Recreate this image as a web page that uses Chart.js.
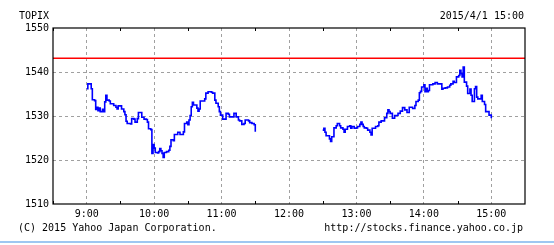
<!DOCTYPE html>
<html lang="ja">
<head>
<meta charset="UTF-8">
<title>TOPIX</title>
<style>
    body { margin: 0; background: #fff; }
    #wrap { position: relative; width: 554px; height: 245px; overflow: hidden; }
    #wrap canvas { position: absolute; left: 0; top: 0; }
    .txt {
        position: absolute;
        font-family: "DejaVu Sans Mono", monospace;
        font-size: 10px;
        line-height: 12px;
        color: #000;
        white-space: nowrap;
    }
    #rule { position: absolute; left: 0; top: 241px; width: 554px; height: 2px; background: #9fc7f1; }
</style>
<script src="https://cdn.jsdelivr.net/npm/chart.js"></script>
</head>
<body>
<div id="wrap">
    <canvas id="chart" width="554" height="245"></canvas>
    <div class="txt" style="left:19px; top:10px;">TOPIX</div>
    <div class="txt" style="right:30px; top:10px;">2015/4/1 15:00</div>
    <div class="txt" style="left:18px; top:222px;">(C) 2015 Yahoo Japan Corporation.</div>
    <div class="txt" style="right:31px; top:222px;">http://stocks.finance.yahoo.co.jp</div>
    <div id="rule"></div>
</div>

<script>
    // minutes after 9:00 and index level
    const amMins = [0, 1, 3, 4, 5, 7, 8, 9, 10, 11, 12, 14, 15, 16, 17, 18, 20, 21, 24, 26,
        27, 28, 30, 31, 33, 34, 35, 36, 39, 40, 42, 43, 45, 46, 48, 49, 51, 53, 54, 55,
        57, 58, 59, 60, 61, 63, 64, 65, 66, 67, 68, 69, 71, 73, 74, 75, 77, 78, 81, 83,
        86, 87, 89, 90, 91, 92, 93, 94, 95, 97, 98, 99, 100, 101, 103, 105, 106, 108, 111, 112,
        114, 115, 117, 118, 119, 121, 122, 124, 126, 127, 130, 131, 133, 135, 136, 138, 140, 141, 144, 145,
        147, 149, 150];
    const amVals = [1536.2, 1537.3, 1537.3, 1536.2, 1533.7, 1533.5, 1531.5, 1532.0, 1531.2, 1531.8, 1531.0, 1531.5, 1531.0, 1533.2, 1534.7, 1533.6, 1533.4, 1532.8, 1532.4, 1532.0,
        1531.6, 1532.3, 1532.3, 1531.6, 1531.0, 1530.3, 1528.8, 1528.3, 1528.2, 1529.4, 1529.3, 1528.6, 1529.4, 1530.8, 1530.8, 1529.7, 1529.3, 1529.2, 1528.6, 1527.1,
        1526.9, 1521.5, 1523.5, 1522.7, 1521.7, 1521.6, 1521.9, 1522.6, 1522.1, 1521.5, 1520.6, 1521.7, 1521.9, 1522.2, 1523.1, 1524.6, 1524.4, 1525.8, 1526.3, 1525.8,
        1526.4, 1528.3, 1528.6, 1528.0, 1529.1, 1530.1, 1532.1, 1533.1, 1532.5, 1532.5, 1531.8, 1531.1, 1531.6, 1533.4, 1533.4, 1533.9, 1535.2, 1535.5, 1535.4, 1535.2,
        1533.6, 1532.9, 1532.1, 1531.0, 1530.2, 1529.3, 1529.3, 1530.6, 1530.4, 1529.8, 1529.8, 1530.6, 1529.8, 1529.1, 1528.9, 1528.1, 1528.3, 1529.1, 1528.9, 1528.5,
        1528.3, 1528.0, 1526.4];

    const pmMins = [210, 211, 212, 213, 215, 216, 217, 218, 220, 221, 222, 223, 225, 226, 228, 229, 230, 232, 234, 235,
        236, 238, 240, 241, 243, 244, 245, 246, 247, 249, 250, 252, 253, 254, 256, 257, 259, 260, 262, 264,
        265, 267, 268, 269, 270, 272, 274, 277, 279, 281, 283, 285, 287, 289, 290, 292, 293, 295, 296, 297,
        298, 300, 301, 302, 303, 304, 305, 308, 310, 312, 314, 316, 317, 319, 321, 323, 324, 326, 327, 329,
        331, 332, 333, 334, 335, 336, 338, 339, 341, 342, 343, 345, 346, 347, 348, 351, 352, 354, 355, 357,
        358, 360];
    const pmVals = [1526.8, 1527.2, 1526.3, 1525.5, 1525.5, 1524.8, 1524.2, 1525.3, 1527.3, 1527.3, 1527.8, 1528.3, 1527.8, 1527.3, 1527.0, 1526.3, 1527.0, 1527.6, 1527.8, 1527.2,
        1527.6, 1527.2, 1527.3, 1527.6, 1528.1, 1528.6, 1528.1, 1527.6, 1527.3, 1527.2, 1526.8, 1526.3, 1525.7, 1527.2, 1527.2, 1527.6, 1527.8, 1528.6, 1528.9, 1528.9,
        1529.6, 1530.6, 1531.4, 1531.0, 1530.6, 1529.5, 1530.1, 1530.6, 1531.1, 1531.9, 1531.4, 1530.8, 1532.0, 1532.0, 1531.7, 1532.4, 1533.3, 1533.6, 1535.3, 1535.6,
        1536.6, 1537.1, 1535.5, 1536.3, 1535.5, 1535.8, 1537.1, 1537.3, 1537.6, 1537.3, 1537.3, 1536.1, 1536.3, 1536.4, 1536.6, 1537.0, 1537.3, 1537.9, 1537.6, 1538.9,
        1539.2, 1540.4, 1539.6, 1538.9, 1541.1, 1537.7, 1536.8, 1535.1, 1536.1, 1534.7, 1533.3, 1536.2, 1536.7, 1534.3, 1533.9, 1534.7, 1533.3, 1532.6, 1531.0, 1531.0,
        1530.2, 1529.5];

    const prevClose = 1543.11;
    const xRange = [-30, 390];      // 8:30 .. 15:30
    const yTicks = [1510, 1520, 1530, 1540, 1550];

    const toPts = (xs, ys) => xs.map((m, i) => ({ x: m, y: ys[i] }));
    const hourLabel = (v) => (v % 60 === 0 && v >= 0 && v <= 360) ? (9 + v / 60) + ':00' : '';

    // black frame + short inner ticks at the half hours
    const framePlugin = {
        id: 'frame',
        afterDatasetsDraw(chart) {
            const { ctx, chartArea: a, scales: { x } } = chart;
            ctx.save();
            ctx.strokeStyle = '#000';
            ctx.lineWidth = 1;
            ctx.beginPath();
            for (let m = 0; m <= 360; m += 60) {
                const px = Math.round(x.getPixelForValue(m - 30)) + 0.5;
                ctx.moveTo(px, a.top); ctx.lineTo(px, a.top + 3);
                ctx.moveTo(px, a.bottom); ctx.lineTo(px, a.bottom - 3);
            }
            ctx.stroke();
            ctx.lineWidth = 1.2;
            ctx.strokeRect(a.left, a.top, a.right - a.left, a.bottom - a.top);
            ctx.restore();
        }
    };

    const font = { family: 'DejaVu Sans Mono', size: 10 };

    new Chart(document.getElementById('chart'), {
        type: 'line',
        data: {
            datasets: [{
                data: toPts(xRange, [prevClose, prevClose]),
                borderColor: '#ff0000',
                borderWidth: 1.5,
                pointRadius: 0
            }, {
                data: toPts(amMins, amVals),
                borderColor: '#0000ff',
                borderWidth: 1.6,
                stepped: 'before',
                pointRadius: 0
            }, {
                data: toPts(pmMins, pmVals),
                borderColor: '#0000ff',
                borderWidth: 1.6,
                stepped: 'before',
                pointRadius: 0
            }]
        },
        options: {
            responsive: false,
            animation: false,
            layout: { padding: { left: 0, right: 29, top: 28, bottom: 0 } },
            plugins: { legend: { display: false }, tooltip: { enabled: false } },
            scales: {
                x: {
                    type: 'linear',
                    min: xRange[0],
                    max: xRange[1],
                    afterFit: (s) => { s.height = 41; },
                    ticks: {
                        stepSize: 30,
                        autoSkip: false,
                        maxRotation: 0,
                        padding: 4,
                        color: '#000',
                        font: font,
                        callback: hourLabel
                    },
                    grid: {
                        drawTicks: false,
                        lineWidth: 1,
                        color: (c) => (c.tick && c.tick.value % 60 === 0 && c.tick.value >= 0 && c.tick.value <= 360) ? '#a0a0a0' : 'rgba(0,0,0,0)'
                    },
                    border: { display: false, dash: [3, 3] }
                },
                y: {
                    min: yTicks[0],
                    max: yTicks[yTicks.length - 1],
                    afterFit: (s) => { s.width = 53; },
                    afterBuildTicks: (s) => { s.ticks = yTicks.map(v => ({ value: v })); },
                    ticks: {
                        padding: 4,
                        color: '#000',
                        font: font,
                        callback: (v) => String(v)
                    },
                    grid: {
                        drawTicks: false,
                        lineWidth: 1,
                        color: (c) => (c.tick && c.tick.value > yTicks[0] && c.tick.value < yTicks[yTicks.length - 1]) ? '#a0a0a0' : 'rgba(0,0,0,0)'
                    },
                    border: { display: false, dash: [3, 3] }
                }
            }
        },
        plugins: [framePlugin]
    });
</script>
</body>
</html>
